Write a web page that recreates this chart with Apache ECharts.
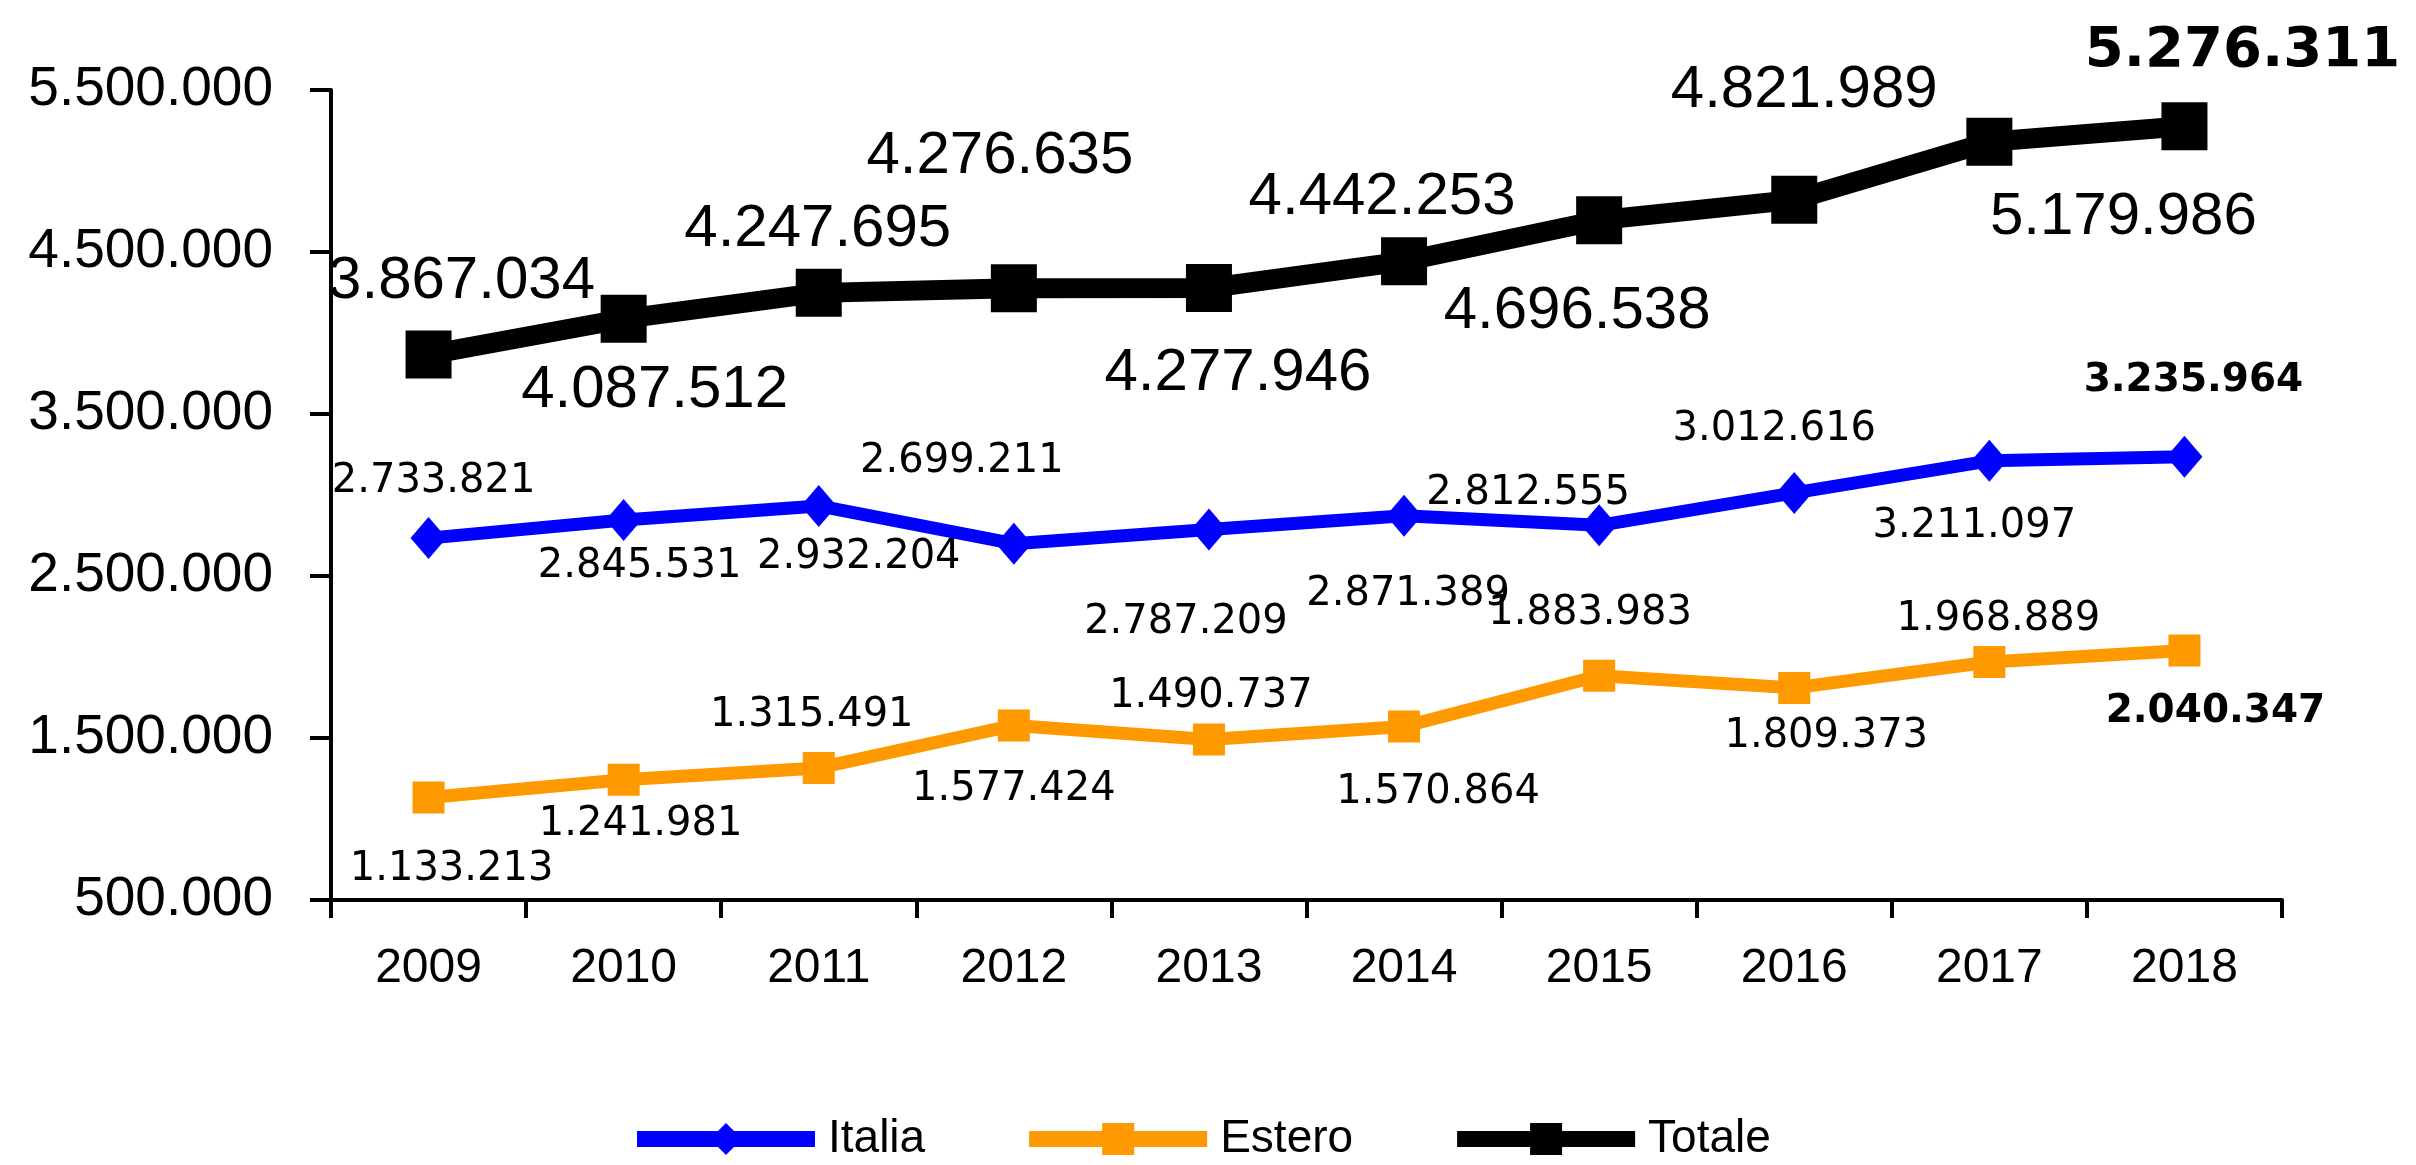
<!DOCTYPE html>
<html>
<head>
<meta charset="utf-8">
<script src="https://cdn.jsdelivr.net/npm/echarts@6/dist/echarts.min.js"></script>
<style>
	html, body { margin: 0; padding: 0; background: #fff; }
	#chart { width: 2416px; height: 1165px; }
</style>
</head>
<body>
<div id="chart"></div>
<script>
	const anni = ['2009', '2010', '2011', '2012', '2013', '2014', '2015', '2016', '2017', '2018']
	const italia = [2733821, 2845531, 2932204, 2699211, 2787209, 2871389, 2812555, 3012616, 3211097, 3235964]
	const estero = [1133213, 1241981, 1315491, 1577424, 1490737, 1570864, 1883983, 1809373, 1968889, 2040347]
	const totale = [3867034, 4087512, 4247695, 4276635, 4277946, 4442253, 4696538, 4821989, 5179986, 5276311]

	// spostamento etichette (px) rispetto al punto
	const offItalia = [[5, -57], [16, 47], [40, 52], [-52, -82], [-23, 93], [4, 79], [-71, -32], [-20, -63], [-15, 66], [9, -76]]
	const offEstero = [[23, 72], [17, 45], [-7, -52], [0, 64], [2, -43], [34, 66], [-9, -62], [32, 49], [9, -42], [31, 61]]
	const offTotale = [[33, -73], [31, 72], [-1, -63], [-14, -132], [29, 85], [-22, -64], [-22, 91], [10, -109], [134, 76], [58, -75]]

	const arial = "'Liberation Sans', Arial, sans-serif"

	function fmt(v) {
		return String(v).replace(/\B(?=(\d{3})+(?!\d))/g, '.')
	}

	function punti(valori, off, font, size, boldSize) {
		return valori.map(function(v, i) {
			var last = i === valori.length - 1
			return {
				value: v,
				label: {
					offset: off[i],
					fontWeight: last ? 'bold' : 'normal',
					fontFamily: last ? 'DejaVu Sans' : font,
					fontSize: last ? boldSize : size
				}
			}
		})
	}

	const labelBase = {
		show: true,
		position: 'inside',
		color: '#000',
		align: 'center',
		verticalAlign: 'middle',
		formatter: function(p) { return fmt(p.value) }
	}

	const myChart = echarts.init(document.getElementById('chart'))
	myChart.setOption({
		animation: false,
		backgroundColor: '#fff',
		grid: {
			left: 331,
			right: 134,
			top: 90,
			bottom: 265,
			outerBoundsMode: 'none'
		},
		legend: {
			left: 624,
			top: 1111,
			itemWidth: 178,
			itemHeight: 40,
			itemGap: 96,
			lineStyle: { width: 16 },
			textStyle: {
				fontFamily: arial,
				fontSize: 46,
				color: '#000',
				padding: [0, 0, 0, 8]
			},
			data: ['Italia', 'Estero', 'Totale']
		},
		xAxis: {
			type: 'category',
			data: anni,
			boundaryGap: true,
			axisLine: { lineStyle: { color: '#000', width: 4 } },
			axisTick: { show: true, length: 18, lineStyle: { color: '#000', width: 4 } },
			axisLabel: {
				margin: 45,
				color: '#000',
				fontFamily: arial,
				fontSize: 48
			},
			splitLine: { show: false }
		},
		yAxis: {
			type: 'value',
			min: 500000,
			max: 5500000,
			interval: 1000000,
			axisLine: { show: true, lineStyle: { color: '#000', width: 4 } },
			axisTick: { show: true, length: 21, lineStyle: { color: '#000', width: 4 } },
			axisLabel: {
				margin: 58,
				color: '#000',
				fontFamily: arial,
				fontSize: 55,
				formatter: fmt
			},
			splitLine: { show: false }
		},
		series: [
			{
				name: 'Italia',
				type: 'line',
				z: 3,
				symbol: 'diamond',
				symbolSize: [36, 42],
				itemStyle: { color: '#0000ff' },
				lineStyle: { color: '#0000ff', width: 13 },
				label: Object.assign({}, labelBase),
				data: punti(italia, offItalia, 'DejaVu Sans', 40, 39)
			},
			{
				name: 'Estero',
				type: 'line',
				z: 3,
				symbol: 'rect',
				symbolSize: [32, 32],
				itemStyle: { color: '#ff9900' },
				lineStyle: { color: '#ff9900', width: 13 },
				label: Object.assign({}, labelBase),
				data: punti(estero, offEstero, 'DejaVu Sans', 40, 39)
			},
			{
				name: 'Totale',
				type: 'line',
				z: 4,
				symbol: 'rect',
				symbolSize: [46, 48],
				itemStyle: { color: '#000' },
				lineStyle: { color: '#000', width: 20 },
				label: Object.assign({}, labelBase),
				data: punti(totale, offTotale, arial, 60, 56)
			}
		]
	})
</script>
</body>
</html>
